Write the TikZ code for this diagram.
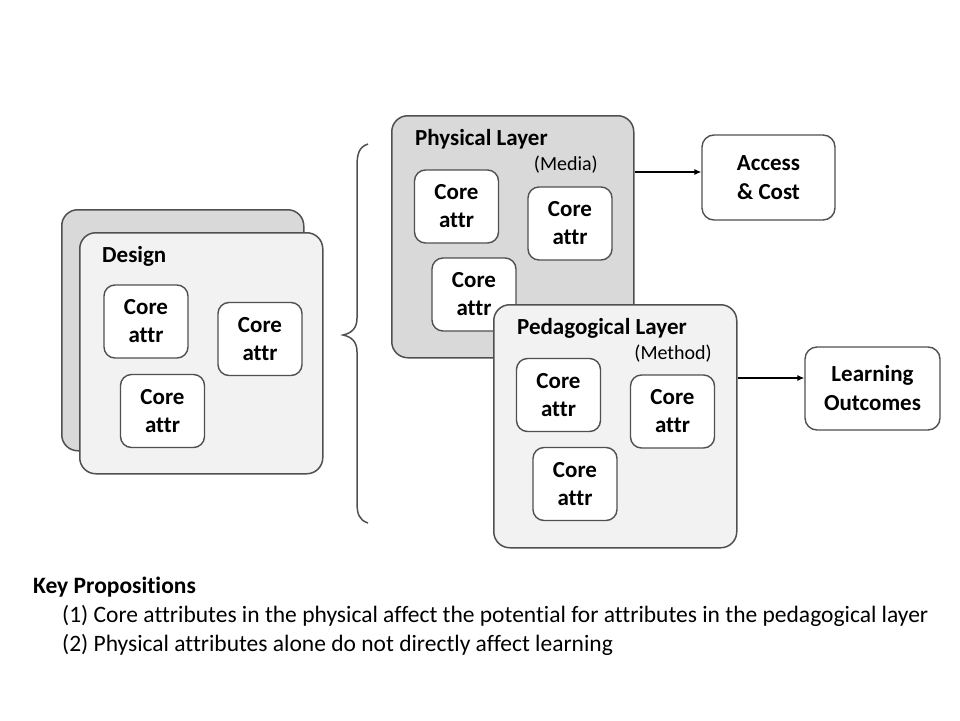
\documentclass[tikz,border=0pt]{standalone}
\usepackage{fontspec}
\setmainfont{Carlito}[Ligatures=NoCommon]
\usetikzlibrary{arrows.meta,calc}
\definecolor{edge}{HTML}{505050}
\definecolor{darkfill}{HTML}{D9D9D9}
\definecolor{lightfill}{HTML}{F2F2F2}
\tikzset{
  bigbox/.style={draw=edge, line width=1.5pt, rounded corners=16pt, anchor=north west, inner sep=0pt},
  core/.style={draw=edge, fill=white, line width=1.4pt, rounded corners=11pt, minimum width=84pt, minimum height=73pt, inner sep=0pt, align=center, font=\bfseries\fontsize{23}{28}\selectfont},
  outbox/.style={draw=edge, fill=white, line width=1.4pt, rounded corners=12pt, inner sep=0pt, align=center, font=\bfseries\fontsize{23}{29}\selectfont},
  title/.style={anchor=base west, inner sep=0pt, font=\bfseries\fontsize{23}{26}\selectfont},
  sub/.style={anchor=base east, inner sep=0pt, font=\fontsize{20}{22}\selectfont},
  arr/.style={draw=black, line width=1.1pt, -{Latex[length=7pt,width=6pt]}},
  txt/.style={anchor=base west, inner sep=0pt, font=\fontsize{23.5}{26}\selectfont}
}
\begin{document}
\begin{tikzpicture}[x=1pt,y=-1pt]
\useasboundingbox (0,0) rectangle (960,720);
% Design stack
\node[bigbox, fill=darkfill, minimum width=242pt, minimum height=241pt] (dback) at (61,209) {};
\node[bigbox, fill=lightfill, minimum width=243pt, minimum height=241pt] (design) at (79,232) {};
\node[title] (dlab) at (102,262) {Design};
\node[core] (d1) at (146,321.5) {Core\\attr};
\node[core] (d2) at (260,339) {Core\\attr};
\node[core] (d3) at (162.5,411) {Core\\attr};
% brace
\draw[edge, line width=1.5pt] (368,144) .. controls (359,147) and (357,154) .. (357,166)
  -- (357,318) .. controls (357,328) and (352,333) .. (343,335)
  .. controls (352,337) and (357,342) .. (357,352)
  -- (357,502) .. controls (357,514) and (359,520) .. (368,523);
% Physical layer
\node[bigbox, fill=darkfill, minimum width=242pt, minimum height=242pt] (phys) at (391,115) {};
\node[title] (plab) at (415,145) {Physical Layer};
\node[sub] (pmed) at (598,170) {(Media)};
\node[core] (p1) at (456.5,206.5) {Core\\attr};
\node[core] (p2) at (570,223.5) {Core\\attr};
\node[core] (p3) at (474,294.5) {Core\\attr};
% Pedagogical layer
\node[bigbox, fill=lightfill, minimum width=243pt, minimum height=243pt] (ped) at (493,304) {};
\node[title] (glab) at (517,334) {Pedagogical Layer};
\node[sub] (gmet) at (712,359) {(Method)};
\node[core] (g1) at (558.5,395) {Core\\attr};
\node[core] (g2) at (672.5,411.5) {Core\\attr};
\node[core] (g3) at (575,484) {Core\\attr};
% outcomes
\node[outbox, minimum width=133pt, minimum height=85pt] (acc) at (768.5,177.5) {Access\\\& Cost};
\node[outbox, minimum width=135pt, minimum height=83pt] (lo) at (872.5,388.5) {Learning\\Outcomes};
\draw[arr] (phys.east |- 0,172) -- (acc.west |- 0,172);
\draw[arr] (ped.east |- 0,378) -- (lo.west |- 0,378);
% key propositions
\node[txt, font=\bfseries\fontsize{23.5}{26}\selectfont] (kp) at (33,593) {Key Propositions};
\node[txt] (k1) at (62,622) {(1) Core attributes in the physical affect the potential for attributes in the pedagogical layer};
\node[txt] (k2) at (62,651) {(2) Physical attributes alone do not directly affect learning};
\end{tikzpicture}
\end{document}
